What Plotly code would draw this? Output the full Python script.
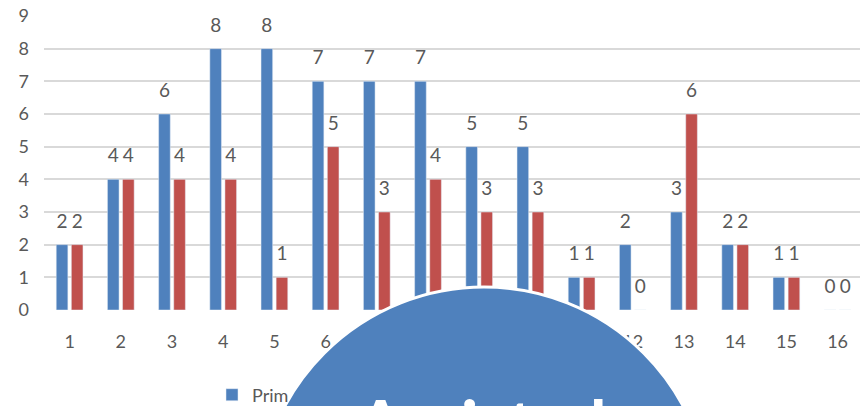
import plotly.graph_objects as go

# ---- data ----
categories = ["1", "2", "3", "4", "5", "6", "7", "8", "9", "10", "11", "12", "13", "14", "15", "16"]
series_a = [2, 4, 6, 8, 8, 7, 7, 7, 5, 5, 1, 2, 3, 2, 1, 0]
series_b = [2, 4, 4, 4, 1, 5, 3, 4, 3, 3, 1, 0, 6, 2, 1, 0]
series_a_name = "Prim"
series_b_name = "Segundo"
overlay_text = "Amistad"
y_ticks = [0, 1, 2, 3, 4, 5, 6, 7, 8, 9]

# ---- styling ----
BLUE = "#4F81BD"
RED = "#C0504D"
GRAY_TXT = "#595959"
GRID = "#D9D9D9"
FONT = "Lato"

W, H = 860, 406
L, R, T, B = 44, 0, 16, 96
pw, ph = W - L - R, H - T - B


def px_x(p):
    return (p - L) / pw


def px_y(p):
    return (H - B - p) / ph


fig = go.Figure()
fig.add_bar(x=categories, y=series_a, name=series_a_name, marker_color=BLUE,
            offsetgroup="a", alignmentgroup="g", hoverinfo="skip")
fig.add_bar(x=categories, y=series_b, name=series_b_name, marker_color=RED,
            offsetgroup="b", alignmentgroup="g", hoverinfo="skip", showlegend=False)
for vals, grp in ((series_a, "a"), (series_b, "b")):
    fig.add_scatter(x=categories, y=vals, mode="markers+text", text=[str(v) for v in vals],
                    textposition="top center", orientation="v",
                    marker=dict(size=[18] * len(vals), opacity=0),
                    textfont=dict(family=FONT, size=19, color=GRAY_TXT),
                    offsetgroup=grp, alignmentgroup="g", showlegend=False, hoverinfo="skip")

# overlay circle
cx, cy, rad = 484, 513, 226
fig.add_shape(type="circle", xref="paper", yref="paper",
              x0=px_x(cx - rad), x1=px_x(cx + rad), y0=px_y(cy + rad), y1=px_y(cy - rad),
              fillcolor=BLUE, line=dict(color="white", width=3), layer="above")
fig.add_annotation(text="<b>" + overlay_text + "</b>", xref="paper", yref="paper",
                   x=px_x(481), y=px_y(381), xanchor="center", yanchor="top", showarrow=False,
                   font=dict(family=FONT, size=68, color="white"))

fig.update_layout(
    width=W, height=H,
    margin=dict(l=L, r=R, t=T, b=B, pad=0, autoexpand=False),
    paper_bgcolor="white", plot_bgcolor="white",
    barmode="group", bargap=0.41, bargroupgap=0.23,
    scattermode="group", scattergap=0.41,
    font=dict(family=FONT, size=18, color=GRAY_TXT),
    showlegend=True,
    legend=dict(orientation="h", x=px_x(212), y=px_y(395), xanchor="left", yanchor="middle",
                font=dict(family=FONT, size=18, color=GRAY_TXT), bgcolor="rgba(0,0,0,0)"),
    xaxis=dict(type="category", range=[-0.5, -0.5 + pw / 51.2], showgrid=False, zeroline=False,
               showline=False, ticks="", ticklabelstandoff=19,
               tickfont=dict(family=FONT, size=18, color=GRAY_TXT), fixedrange=True),
    yaxis=dict(range=[0, 9], tickvals=y_ticks, showgrid=True, gridcolor=GRID, gridwidth=1.6,
               zeroline=False, showline=False, ticks="", ticklabelstandoff=14,
               tickfont=dict(family=FONT, size=18, color=GRAY_TXT), fixedrange=True),
)

fig.write_html("out.html", config={"displayModeBar": False},
               post_script="document.body.style.margin='0';document.body.style.overflow='hidden';")
